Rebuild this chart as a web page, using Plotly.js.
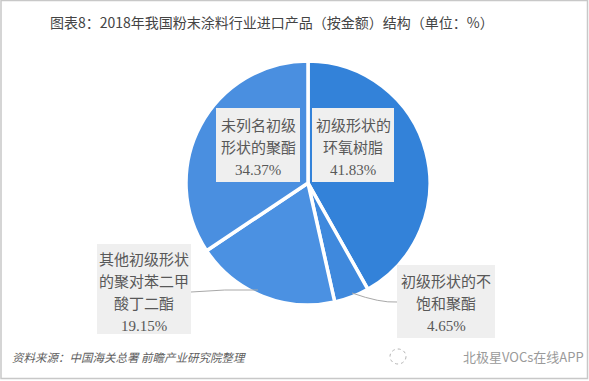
<!DOCTYPE html>
<html>
<head>
<meta charset="utf-8">
<script src="https://cdn.plot.ly/plotly-3.0.1.min.js"></script>
<style>html,body{margin:0;padding:0;background:#fff;}#chart{width:589px;height:381px;}</style>
</head>
<body>
<div id="chart"></div>
<script>
const categories = ['初级形状的环氧树脂', '初级形状的不饱和聚酯', '其他初级形状的聚对苯二甲酸丁二酯', '未列名初级形状的聚酯'];
const values = [41.83, 4.65, 19.15, 34.37];
const labelLines = [
  ['初级形状的', '环氧树脂'],
  ['初级形状的不', '饱和聚酯'],
  ['其他初级形状', '的聚对苯二甲', '酸丁二酯'],
  ['未列名初级', '形状的聚酯']
];
const sliceColors = ['#3382d9', '#3f89dd', '#4b91e2', '#4a8fe0'];
const titleText = '图表8：2018年我国粉末涂料行业进口产品（按金额）结构（单位：%）';
const sourceText = '资料来源：中国海关总署 前瞻产业研究院整理';

const W = 589, H = 381;
const px = x => x / W;
const py = y => 1 - y / H;
const fontFam = 'Liberation Serif, "Noto Sans CJK SC", serif';

// label box placements (pixels): box edges and first text line centre
const boxes = [
  {x0: 312, x1: 394, y0: 108, y1: 182, first: 126},
  {x0: 397, x1: 495, y0: 265, y1: 338, first: 282},
  {x0: 97,  x1: 191, y0: 244, y1: 334, first: 260},
  {x0: 216, x1: 300, y0: 108, y1: 182, first: 126}
];
const lineStep = 22;

const annotations = [];
const shapes = [
  {type: 'rect', xref: 'paper', yref: 'paper', x0: px(1), x1: px(587.5), y0: py(378.5), y1: py(0.5),
   line: {color: '#c8c8c8', width: 1.5}}
];

categories.forEach((c, i) => {
  const b = boxes[i];
  shapes.push({type: 'rect', xref: 'paper', yref: 'paper',
    x0: px(b.x0), x1: px(b.x1), y0: py(b.y1), y1: py(b.y0),
    fillcolor: '#efefef', line: {width: 0}, layer: 'above'});
  const lines = labelLines[i].concat([values[i].toFixed(2) + '%']);
  lines.forEach((t, k) => {
    annotations.push({
      xref: 'paper', yref: 'paper',
      x: px((b.x0 + b.x1) / 2), y: py(b.first + k * lineStep),
      xanchor: 'center', yanchor: 'middle',
      text: t, showarrow: false,
      font: {family: fontFam, size: 15, color: '#585858'}
    });
  });
});

annotations.push({
  xref: 'paper', yref: 'paper', x: px(48), y: py(22), xanchor: 'left', yanchor: 'middle',
  text: titleText, showarrow: false,
  font: {family: '"Noto Sans CJK SC", sans-serif', size: 14, color: '#444444'}
});
annotations.push({
  xref: 'paper', yref: 'paper', x: px(10), y: py(357), xanchor: 'left', yanchor: 'middle',
  text: '<i>' + sourceText + '</i>', showarrow: false,
  font: {family: '"Noto Sans CJK SC", sans-serif', size: 11.5, color: '#606060'}
});
annotations.push({
  xref: 'paper', yref: 'paper', x: px(586), y: py(356), xanchor: 'right', yanchor: 'middle',
  text: '北极星VOCs在线APP', showarrow: false,
  font: {family: '"Noto Sans CJK SC", sans-serif', size: 13, color: '#9a9a9a'}
});

shapes.push(
  {type: 'path', xref: 'paper', yref: 'paper',
   path: `M ${px(191)} ${py(292)} Q ${px(225)} ${py(289)} ${px(258)} ${py(290)}`,
   line: {color: '#a8a8a8', width: 1}},
  {type: 'path', xref: 'paper', yref: 'paper',
   path: `M ${px(352)} ${py(293)} Q ${px(380)} ${py(303)} ${px(397)} ${py(302)}`,
   line: {color: '#a8a8a8', width: 1}},
  {type: 'circle', xref: 'paper', yref: 'paper', x0: px(390), x1: px(406), y0: py(364), y1: py(349),
   line: {color: '#b5b5b5', width: 1, dash: 'dot'}}
);

const data = [{
  type: 'pie',
  labels: categories,
  values: values,
  sort: false,
  direction: 'clockwise',
  rotation: 0,
  textinfo: 'none',
  hoverinfo: 'label+percent',
  marker: {colors: sliceColors, line: {color: '#ffffff', width: 3.5}},
  domain: {x: [px(186), px(430)], y: [py(305), py(61)]},
  showlegend: false
}];

const layout = {
  width: W, height: H,
  margin: {l: 0, r: 0, t: 0, b: 0},
  paper_bgcolor: '#ffffff',
  showlegend: false,
  annotations: annotations,
  shapes: shapes
};

Plotly.newPlot('chart', data, layout, {displayModeBar: false, staticPlot: true});
</script>
</body>
</html>
